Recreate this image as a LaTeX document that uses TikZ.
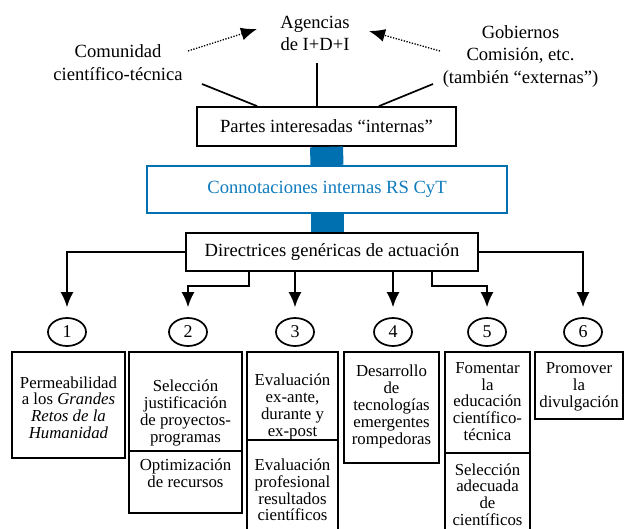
\documentclass[tikz,border=0pt]{standalone}
\usepackage{fontspec}
\setmainfont{Liberation Serif}
\usetikzlibrary{shapes.geometric,arrows.meta}
\definecolor{rsblue}{RGB}{0,112,176}
\definecolor{rstext}{RGB}{16,124,190}

\tikzset{
  lbl/.style={align=center, inner sep=0pt, font=\fontsize{18.6}{22.8}\selectfont},
  txt/.style={align=center, inner sep=0pt, font=\fontsize{16.8}{16.8}\selectfont},
  cell/.style={draw, line width=1.7pt, inner sep=0pt},
  hdr/.style={draw, line width=1.7pt, font=\fontsize{18.6}{19}\selectfont},
  num/.style={draw, ellipse, line width=1.7pt, minimum width=38pt, minimum height=28pt, inner sep=0pt, font=\fontsize{18}{18}\selectfont},
  link/.style={line width=1.7pt},
  down/.style={line width=1.7pt, -{Latex[length=15pt,width=13pt]}, shorten >=10pt},
  dots/.style={line width=1.3pt, dash pattern=on 1.3pt off 1.5pt, -{Latex[length=16pt,width=13pt]}},
  bar/.style={line width=33pt, rsblue}
}

\begin{document}
\begin{tikzpicture}[x=1pt, y=-1pt]
    \useasboundingbox (0,0) rectangle (636,529);

    % partes interesadas
    \node[lbl] (agen) at (315,33.5) {Agencias\\de I+D+I};
    \node[lbl] (comu) at (118,62.5) {Comunidad\\científico-técnica};
    \node[lbl] (gob)  at (520.5,56.5) {Gobiernos\\Comisión, etc.\\(también “externas”)};

    \draw[dots] ([xshift=70pt, yshift=11.5pt]comu.center) -- ([xshift=-58pt, yshift=4.5pt]agen.center);
    \draw[dots] ([xshift=-80.5pt, yshift=5.5pt]gob.center) -- ([xshift=54pt, yshift=2.5pt]agen.center);

    \node[hdr, minimum width=259pt, minimum height=39pt] (partes) at (326.5,126.5) {Partes interesadas “internas”};
    \node[hdr, draw=rsblue, text=rstext, minimum width=360pt, minimum height=47pt] (conn) at (327,189.5) {Connotaciones internas RS CyT};
    \node[hdr, minimum width=292pt, minimum height=38pt] (direc) at (332,252) {Directrices genéricas de actuación};

    \draw[link] ([xshift=84pt, yshift=-21.5pt]comu.center) -- ([xshift=61pt]partes.north west);
    \draw[link] ([xshift=2pt, yshift=-29.5pt]agen.center) -- ([xshift=2pt]agen.center |- partes.north);
    \draw[link] ([xshift=-87.5pt, yshift=-27.5pt]gob.center) -- ([xshift=-78pt]partes.north east);

    \draw[bar] (partes.south) -- (conn.north);
    \draw[bar] (conn.south) -- (conn.south |- direc.north);

    % numeros
    \foreach \n/\x in {1/67, 2/188, 3/295, 4/393, 5/487, 6/583}
        \node[num] (c\n) at (\x,332) {\n};

    \draw[down] (direc.west) -| (c1);
    \draw[down] ([xshift=-83pt]direc.south) -- ++(0,14) -| (c2);
    \draw[down] (direc.south -| c3) -- (c3);
    \draw[down] (direc.south -| c4) -- (c4);
    \draw[down] ([xshift=100pt]direc.south) -- ++(0,14) -| (c5);
    \draw[down] (direc.east) -| (c6);

    % cajas
    \node[cell, minimum width=113pt, minimum height=106pt] (b1)  at (68.5,405) {};
    \node[cell, minimum width=113pt, minimum height=99pt]  (b2a) at (185.5,401.5) {};
    \node[cell, minimum width=113pt, minimum height=62pt]  (b2b) at (185.5,482) {};
    \node[cell, minimum width=91pt,  minimum height=88pt]  (b3a) at (292.5,396) {};
    \node[cell, minimum width=91pt,  minimum height=96pt]  (b3b) at (292.5,488) {};
    \node[cell, minimum width=95pt,  minimum height=111pt] (b4)  at (391.5,407.5) {};
    \node[cell, minimum width=85pt,  minimum height=101pt] (b5a) at (487.5,402.5) {};
    \node[cell, minimum width=85pt,  minimum height=83pt]  (b5b) at (487.5,494.5) {};
    \node[cell, minimum width=88pt,  minimum height=67pt]  (b6)  at (579,385.5) {};

    \node[txt] (t1)  at (68.5,407.5) {Permeabilidad\\a los \textit{Grandes}\\\textit{Retos de la}\\\textit{Humanidad}};
    \node[txt] (t2a) at (185.5,413) {Selección\\justificación\\de proyectos-\\programas};
    \node[txt] (t2b) at (185.5,473.5) {Optimización\\de recursos};
    \node[txt] (t3a) at (292.5,407) {Evaluación\\ex-ante,\\durante y\\ex-post};
    \node[txt] (t3b) at (292.5,490) {Evaluación\\profesional\\resultados\\científicos};
    \node[txt] (t4)  at (391.5,406.5) {Desarrollo\\de\\tecnologías\\emergentes\\rompedoras};
    \node[txt] (t5a) at (487.5,401.5) {Fomentar\\la\\educación\\científico-\\técnica};
    \node[txt] (t5b) at (487.5,494.5) {Selección\\adecuada\\de\\científicos};
    \node[txt] (t6)  at (579,387) {Promover\\la\\divulgación};
\end{tikzpicture}
\end{document}
